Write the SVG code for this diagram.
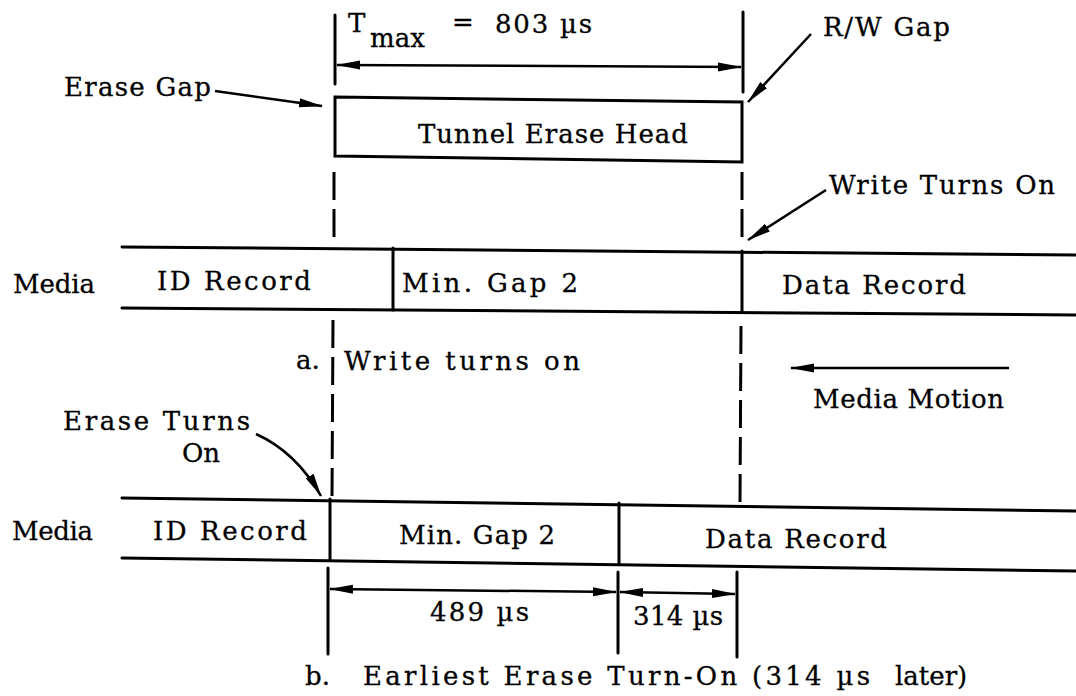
<svg xmlns="http://www.w3.org/2000/svg" width="1076" height="696" viewBox="0 0 1076 696">
<defs>
<style>
.t{font-family:"DejaVu Serif","Liberation Serif",serif;font-size:26px;fill:#000;stroke:#000;stroke-width:0.3}
.ln{stroke:#000;stroke-width:3;fill:none;stroke-linecap:round}
.th{stroke:#000;stroke-width:2.5;fill:none}
.dash{stroke:#000;stroke-width:3;fill:none;stroke-dasharray:28 9}
</style>
<marker id="ah" markerUnits="userSpaceOnUse" markerWidth="24" markerHeight="10" refX="23" refY="5" orient="auto-start-reverse">
<path d="M0,0.5 L24,5 L0,9.5 z" fill="#000"/>
</marker>
</defs>
<rect width="1076" height="696" fill="#fff"/>

<g id="guides">
<line class="ln" x1="335" y1="15" x2="335" y2="84"/>
<line class="ln" x1="743" y1="12" x2="743" y2="92"/>
<line class="dash" x1="334" y1="172" x2="334" y2="242"/>
<line class="dash" x1="742" y1="172" x2="742" y2="246"/>
<line class="dash" x1="333" y1="320" x2="332" y2="497"/>
<line class="dash" x1="741" y1="326" x2="740" y2="503"/>
<line class="ln" x1="328" y1="568" x2="328" y2="654"/>
<line class="ln" x1="618" y1="572" x2="618" y2="653"/>
<line class="ln" x1="737" y1="572" x2="737" y2="657"/>
</g>

<g id="tunnel-erase-head">
<path class="ln" d="M335,97 L742,102 L742,162 L335,156 Z"/>
<text class="t" x="418" y="143" textLength="270" lengthAdjust="spacing">Tunnel Erase Head</text>
</g>

<g id="media-a">
<line class="ln" x1="122" y1="247" x2="1076" y2="255"/>
<line class="ln" x1="122" y1="308" x2="1076" y2="315"/>
<line class="ln" x1="393" y1="248" x2="393" y2="310"/>
<line class="ln" x1="742" y1="251" x2="742" y2="312"/>
<text class="t" x="13" y="293" textLength="82" lengthAdjust="spacing">Media</text>
<text class="t" x="157" y="290" textLength="154" lengthAdjust="spacing">ID Record</text>
<text class="t" x="402" y="292" textLength="176" lengthAdjust="spacing">Min. Gap 2</text>
<text class="t" x="782" y="294" textLength="184" lengthAdjust="spacing">Data Record</text>
</g>

<g id="media-b">
<line class="ln" x1="122" y1="498" x2="1076" y2="511"/>
<line class="ln" x1="122" y1="558" x2="1076" y2="571"/>
<line class="ln" x1="330" y1="499" x2="330" y2="560"/>
<line class="ln" x1="619" y1="503" x2="619" y2="564"/>
<text class="t" x="12" y="540" textLength="81" lengthAdjust="spacing">Media</text>
<text class="t" x="153" y="540" textLength="154" lengthAdjust="spacing">ID Record</text>
<text class="t" x="399" y="544" textLength="156" lengthAdjust="spacing">Min. Gap 2</text>
<text class="t" x="705" y="548" textLength="182" lengthAdjust="spacing">Data Record</text>
</g>

<g id="labels">
<text class="t" x="348" y="32" font-size="27">T</text>
<text class="t" x="370" y="47">max</text>
<text class="t" x="452" y="31">=</text>
<text class="t" x="495" y="33" textLength="97" lengthAdjust="spacing">803 µs</text>
<text class="t" x="64" y="96" textLength="147" lengthAdjust="spacing">Erase Gap</text>
<text class="t" x="823" y="36" textLength="127" lengthAdjust="spacing">R/W Gap</text>
<text class="t" x="829" y="194" textLength="226" lengthAdjust="spacing">Write Turns On</text>
<text class="t" x="296" y="369">a.</text>
<text class="t" x="344" y="370" textLength="236" lengthAdjust="spacing">Write turns on</text>
<text class="t" x="813" y="408" textLength="191" lengthAdjust="spacing">Media Motion</text>
<text class="t" x="63" y="430" textLength="187" lengthAdjust="spacing">Erase Turns</text>
<text class="t" x="182" y="462">On</text>
<text class="t" x="430" y="621" textLength="99" lengthAdjust="spacing">489 µs</text>
<text class="t" x="633" y="625" textLength="90" lengthAdjust="spacing">314 µs</text>
<text class="t" x="305" y="685">b.</text>
<text class="t" x="363" y="685" textLength="507" lengthAdjust="spacing">Earliest Erase Turn-On (314 µs</text>
<text class="t" x="895" y="685">later)</text>
</g>

<g id="connectors">
<line class="th" x1="337" y1="65" x2="741" y2="67" marker-start="url(#ah)" marker-end="url(#ah)"/>
<line class="th" x1="215" y1="91" x2="322" y2="106" marker-end="url(#ah)"/>
<line class="th" x1="811" y1="34" x2="748" y2="102" marker-end="url(#ah)"/>
<line class="th" x1="826" y1="190" x2="748" y2="240" marker-end="url(#ah)"/>
<line class="th" x1="1009" y1="368" x2="791" y2="368" marker-end="url(#ah)"/>
<path class="th" d="M256,434 Q296,452 321,496" marker-end="url(#ah)"/>
<line class="th" x1="330" y1="589" x2="616" y2="592" marker-start="url(#ah)" marker-end="url(#ah)"/>
<line class="th" x1="620" y1="592" x2="735" y2="594" marker-start="url(#ah)" marker-end="url(#ah)"/>
</g>
</svg>
